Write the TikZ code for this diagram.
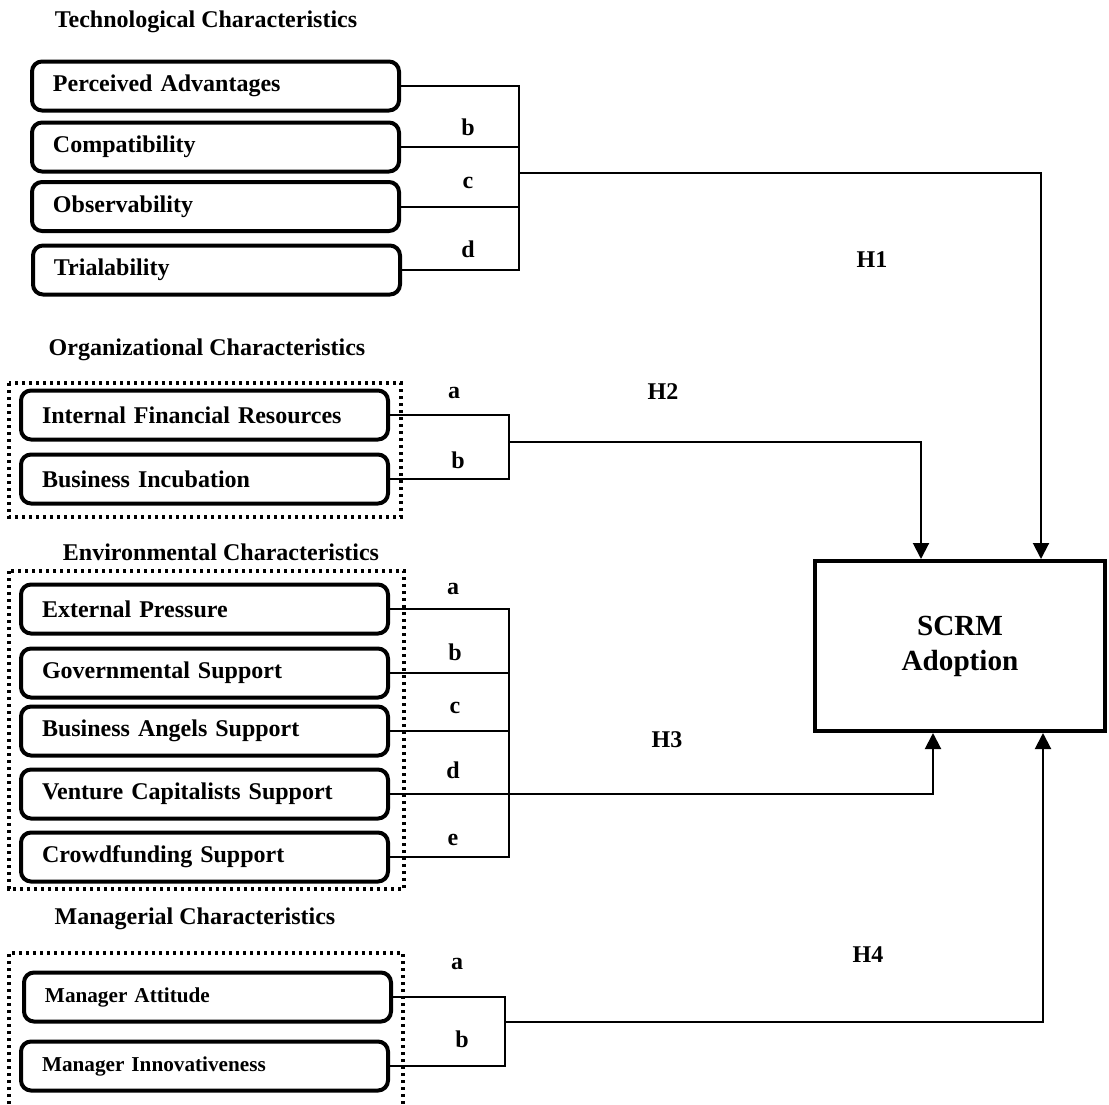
\documentclass[tikz,border=0pt]{standalone}
\usepackage{fontspec}
\setmainfont{Liberation Serif}
\usetikzlibrary{arrows.meta,positioning}
\tikzstyle{factor}=[draw, line width=2pt, rounded corners=5pt, minimum height=24.5pt, text width=162.5pt, inner xsep=10.5pt, align=left, anchor=west, font=\fontsize{12}{14}\selectfont\bfseries]
\tikzstyle{mgrfactor}=[factor, font=\fontsize{10.6}{13}\selectfont\bfseries]
\tikzstyle{grouptitle}=[inner sep=0pt, font=\fontsize{12}{14}\selectfont\bfseries]
\tikzstyle{tag}=[inner sep=0pt, font=\fontsize{12}{14}\selectfont\bfseries]
\tikzstyle{link}=[line width=1pt]
\tikzstyle{hypoArrow}=[line width=1pt, -{Triangle[length=8pt,width=8pt]}]
\tikzstyle{groupframe}=[line width=1.6pt, dash pattern=on 1.6pt off 1.9pt]

\begin{document}
\begin{tikzpicture}[x=0.5pt, y=-0.5pt]
    \useasboundingbox (0,0) rectangle (1109,1104);

    % outcome
    \node[draw, line width=1.8pt, minimum width=145.2pt, minimum height=85.2pt, align=center, font=\fontsize{14.6}{17.5}\selectfont\bfseries] (scrm) at (960,646) {SCRM\\Adoption};

    % technological characteristics
    \node[grouptitle] (techTitle) at (206,22) {Technological Characteristics};
    \node[factor] (adv) at (30,86) {Perceived Advantages};
    \node[factor] (comp) at (30,147) {Compatibility};
    \node[factor] (obs) at (30,206.5) {Observability};
    \node[factor] (trial) at (31,270) {Trialability};
    \coordinate (techBr) at (519,86);
    \coordinate (techOut) at (519,173);
    \draw[link] (adv.east) -- (adv.east -| techBr) -- (trial.east -| techBr) -- (trial.east);
    \draw[link] (comp.east) -- (comp.east -| techBr);
    \draw[link] (obs.east) -- (obs.east -| techBr);
    \node[tag] (tb) at (468,127) {b};
    \node[tag] (tc) at (468,183) {c};
    \node[tag] (td) at (468,249) {d};

    % organizational characteristics
    \node[grouptitle] (orgTitle) at (207,350) {Organizational Characteristics};
    \draw[groupframe] (9,383) rectangle (401,517);
    \node[factor] (fin) at (19,415) {Internal Financial Resources};
    \node[factor] (incub) at (19,479) {Business Incubation};
    \coordinate (orgBr) at (509,415);
    \coordinate (orgOut) at (509,442);
    \draw[link] (fin.east) -- (fin.east -| orgBr) -- (incub.east -| orgBr) -- (incub.east);
    \node[tag] (oa) at (454,393) {a};
    \node[tag] (ob) at (458,460) {b};

    % environmental characteristics
    \node[grouptitle] (envTitle) at (221,552) {Environmental Characteristics};
    \draw[groupframe] (9,571) rectangle (404,889);
    \node[factor] (press) at (19,609) {External Pressure};
    \node[factor] (gov) at (19,673) {Governmental Support};
    \node[factor] (angels) at (19,731) {Business Angels Support};
    \node[factor] (vc) at (19,794) {Venture Capitalists Support};
    \node[factor] (crowd) at (19,857) {Crowdfunding Support};
    \coordinate (envBr) at (509,609);
    \draw[link] (press.east) -- (press.east -| envBr) -- (crowd.east -| envBr) -- (crowd.east);
    \draw[link] (gov.east) -- (gov.east -| envBr);
    \draw[link] (angels.east) -- (angels.east -| envBr);
    \node[tag] (ea) at (453,589) {a};
    \node[tag] (eb) at (455,652) {b};
    \node[tag] (ec) at (455,708) {c};
    \node[tag] (ed) at (453,770) {d};
    \node[tag] (ee) at (453,840) {e};

    % managerial characteristics
    \node[grouptitle] (mgrTitle) at (195,919) {Managerial Characteristics};
    \draw[groupframe] (9,1104) -- (9,953) -- (403,953) -- (403,1104);
    \node[mgrfactor] (att) at (22,997) {Manager Attitude};
    \node[mgrfactor] (innov) at (19,1066) {Manager Innovativeness};
    \coordinate (mgrBr) at (505,997);
    \coordinate (mgrOut) at (505,1022);
    \draw[link] (att.east) -- (att.east -| mgrBr) -- (innov.east -| mgrBr) -- (innov.east);
    \node[tag] (ma) at (457,964) {a};
    \node[tag] (mb) at (462,1039) {b};

    % hypotheses
    \draw[hypoArrow] (techOut) -| ([xshift=40.5pt]scrm.north);
    \draw[hypoArrow] (orgOut) -| ([xshift=-19.5pt]scrm.north);
    \draw[hypoArrow] (vc.east) -| ([xshift=-13.5pt]scrm.south);
    \draw[hypoArrow] (mgrOut) -| ([xshift=41.5pt]scrm.south);
    \node[tag] (h1) at (872,260) {H1};
    \node[tag] (h2) at (663,392) {H2};
    \node[tag] (h3) at (667,740) {H3};
    \node[tag] (h4) at (868,955) {H4};
\end{tikzpicture}
\end{document}
